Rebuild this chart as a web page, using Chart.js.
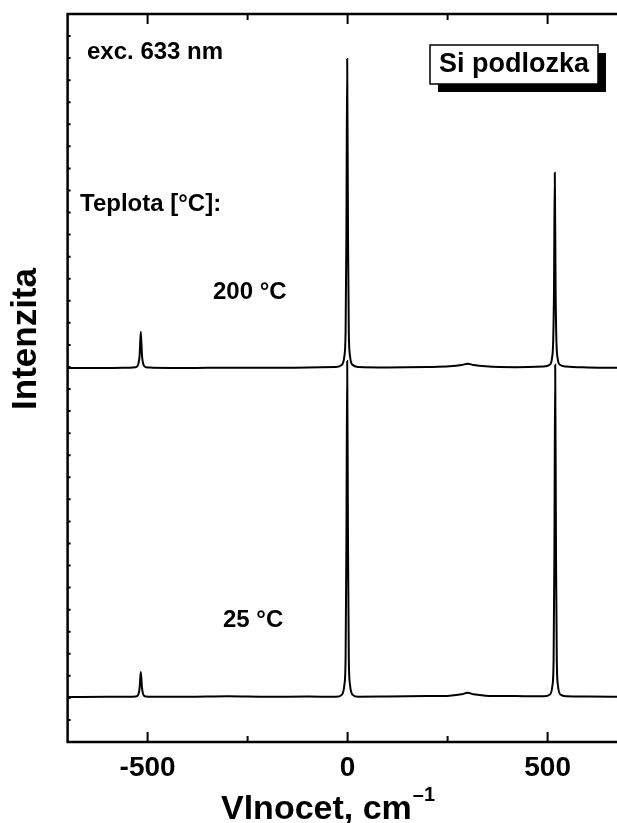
<!DOCTYPE html>
<html>
<head>
<meta charset="utf-8">
<script src="https://cdn.jsdelivr.net/npm/chart.js@4.4.0/dist/chart.umd.min.js"></script>
<style>
html, body { margin: 0; padding: 0; background: #fff; overflow: hidden; }
</style>
</head>
<body>
<canvas id="ramanChart" width="640" height="823"></canvas>
<script>
// Raman spectra of the Si substrate (intensity in arb. units)
const shift200 = [-700, -600, -545, -530, -524, -520, -517, -514, -510, -504, -489, -400, -300, -200, -100,
    -29, -14, -8, -5, -3, -1, 1, 3, 6, 12, 27, 100, 200, 255, 285, 300, 315, 345, 420,
    490, 505, 511, 514, 516, 518, 520, 522, 525, 531, 546, 600, 700];
const int200 = [16.95, 16.95, 16.97, 16.99, 17.09, 17.52, 18.6, 17.52, 17.09, 16.99, 16.97, 16.95, 16.97, 16.96, 16.98,
    17.0, 17.1, 17.5, 18.6, 23.0, 30.96, 23.0, 18.6, 17.5, 17.1, 17.0, 16.98, 17.0, 17.03, 17.09, 17.15, 17.09, 17.03, 16.99,
    17.02, 17.1, 17.4, 18.2, 20.5, 25.8, 20.5, 18.2, 17.4, 17.1, 17.02, 16.98, 16.96];

const shift25 = [-700, -600, -545, -530, -524, -520, -517, -514, -510, -504, -489, -400, -300, -200, -100,
    -29, -14, -8, -5, -3, -1, 1, 3, 6, 12, 27, 100, 200, 255, 285, 300, 315, 345, 420,
    491, 506, 512, 515, 517, 519, 521, 523, 526, 532, 547, 600, 700];
const int25 = [2.04, 2.05, 2.05, 2.06, 2.12, 2.45, 3.17, 2.45, 2.12, 2.06, 2.05, 2.05, 2.07, 2.05, 2.06,
    2.05, 2.15, 2.6, 3.8, 9.0, 17.27, 9.0, 3.8, 2.6, 2.15, 2.05, 2.06, 2.08, 2.1, 2.16, 2.23, 2.16, 2.1, 2.08,
    2.07, 2.15, 2.55, 3.7, 8.5, 17.1, 8.5, 3.7, 2.55, 2.15, 2.07, 2.06, 2.05];

const xTicks = [-500, -250, 0, 250, 500];
const xLabels = ['-500', '', '0', '', '500'];
const yTicks = [];
for (let i = 1; i < 33; i++) yTicks.push(i);

const FONT = '"Liberation Sans", Arial, Helvetica, sans-serif';
Chart.defaults.font.family = FONT;
Chart.defaults.color = '#000';

function toPoints(xs, ys) {
    return xs.map((x, i) => ({ x: x, y: ys[i] }));
}

// frame, inward ticks and the text on the plot
const decorations = {
    id: 'decorations',
    afterDraw(chart) {
        const ctx = chart.ctx;
        const area = chart.chartArea;
        const xs = chart.scales.x;
        const ys = chart.scales.y;

        ctx.save();
        ctx.strokeStyle = '#000';
        ctx.lineWidth = 2.5;
        ctx.strokeRect(area.left, area.top, area.right - area.left, area.bottom - area.top);

        ctx.lineWidth = 2;
        ctx.beginPath();
        xTicks.forEach(v => {
            const px = xs.getPixelForValue(v);
            const len = v % 500 === 0 ? 10 : 6;
            ctx.moveTo(px, area.bottom);
            ctx.lineTo(px, area.bottom - len);
            ctx.moveTo(px, area.top);
            ctx.lineTo(px, area.top + len);
        });
        yTicks.forEach(v => {
            const py = ys.getPixelForValue(v);
            ctx.moveTo(area.left, py);
            ctx.lineTo(area.left + 3, py);
            ctx.moveTo(area.right, py);
            ctx.lineTo(area.right - 3, py);
        });
        ctx.stroke();

        ctx.fillStyle = '#000';
        ctx.textBaseline = 'middle';
        ctx.textAlign = 'left';
        ctx.font = 'bold 24px ' + FONT;
        ctx.fillText('exc. 633 nm', 87, 52);
        ctx.fillText('Teplota [°C]:', 80, 204);
        ctx.fillText('200 °C', 213, 292);
        ctx.fillText('25 °C', 223, 620);

        // boxed label with a shadow
        ctx.fillRect(438, 53, 168, 39);
        ctx.fillStyle = '#fff';
        ctx.fillRect(430, 45, 168, 39);
        ctx.lineWidth = 1.5;
        ctx.strokeRect(430, 45, 168, 39);
        ctx.fillStyle = '#000';
        ctx.textAlign = 'center';
        ctx.font = 'bold 27px ' + FONT;
        ctx.fillText('Si podlozka', 514, 65);

        // axis titles
        ctx.font = 'bold 34px ' + FONT;
        ctx.textBaseline = 'alphabetic';
        ctx.textAlign = 'left';
        ctx.fillText('Vlnocet, cm', 221, 819);
        const w = ctx.measureText('Vlnocet, cm').width;
        ctx.font = 'bold 20px ' + FONT;
        ctx.fillText('\u20131', 221 + w + 1, 801);

        ctx.translate(26, 339);
        ctx.rotate(-Math.PI / 2);
        ctx.font = 'bold 35px ' + FONT;
        ctx.textAlign = 'center';
        ctx.textBaseline = 'middle';
        ctx.fillText('Intenzita', 0, 0);
        ctx.restore();
    }
};

const config = {
    type: 'line',
    data: {
        datasets: [{
            label: '200 °C',
            data: toPoints(shift200, int200),
            borderColor: '#000',
            borderWidth: 2,
            pointRadius: 0,
            cubicInterpolationMode: 'monotone',
            fill: false
        }, {
            label: '25 °C',
            data: toPoints(shift25, int25),
            borderColor: '#000',
            borderWidth: 2,
            pointRadius: 0,
            cubicInterpolationMode: 'monotone',
            fill: false
        }]
    },
    options: {
        responsive: false,
        animation: false,
        layout: { padding: { top: 14, right: 12.4, left: 0, bottom: 0 } },
        plugins: {
            legend: { display: false },
            tooltip: { enabled: false }
        },
        scales: {
            x: {
                type: 'linear',
                min: -700,
                max: 700,
                afterBuildTicks: axis => {
                    axis.ticks = xTicks.map(v => ({ value: v }));
                },
                afterFit: axis => { axis.height = 81; },
                ticks: {
                    autoSkip: false,
                    maxRotation: 0,
                    padding: 9,
                    font: { size: 28, weight: 'bold' },
                    callback: (value, index) => xLabels[index]
                },
                grid: { display: false, drawTicks: false },
                border: { display: false }
            },
            y: {
                min: 0,
                max: 33,
                afterFit: axis => { axis.width = 67.6; },
                ticks: { display: false },
                grid: { display: false, drawTicks: false },
                border: { display: false }
            }
        }
    },
    plugins: [decorations]
};

const ramanChart = new Chart(document.getElementById('ramanChart'), config);
</script>
</body>
</html>
